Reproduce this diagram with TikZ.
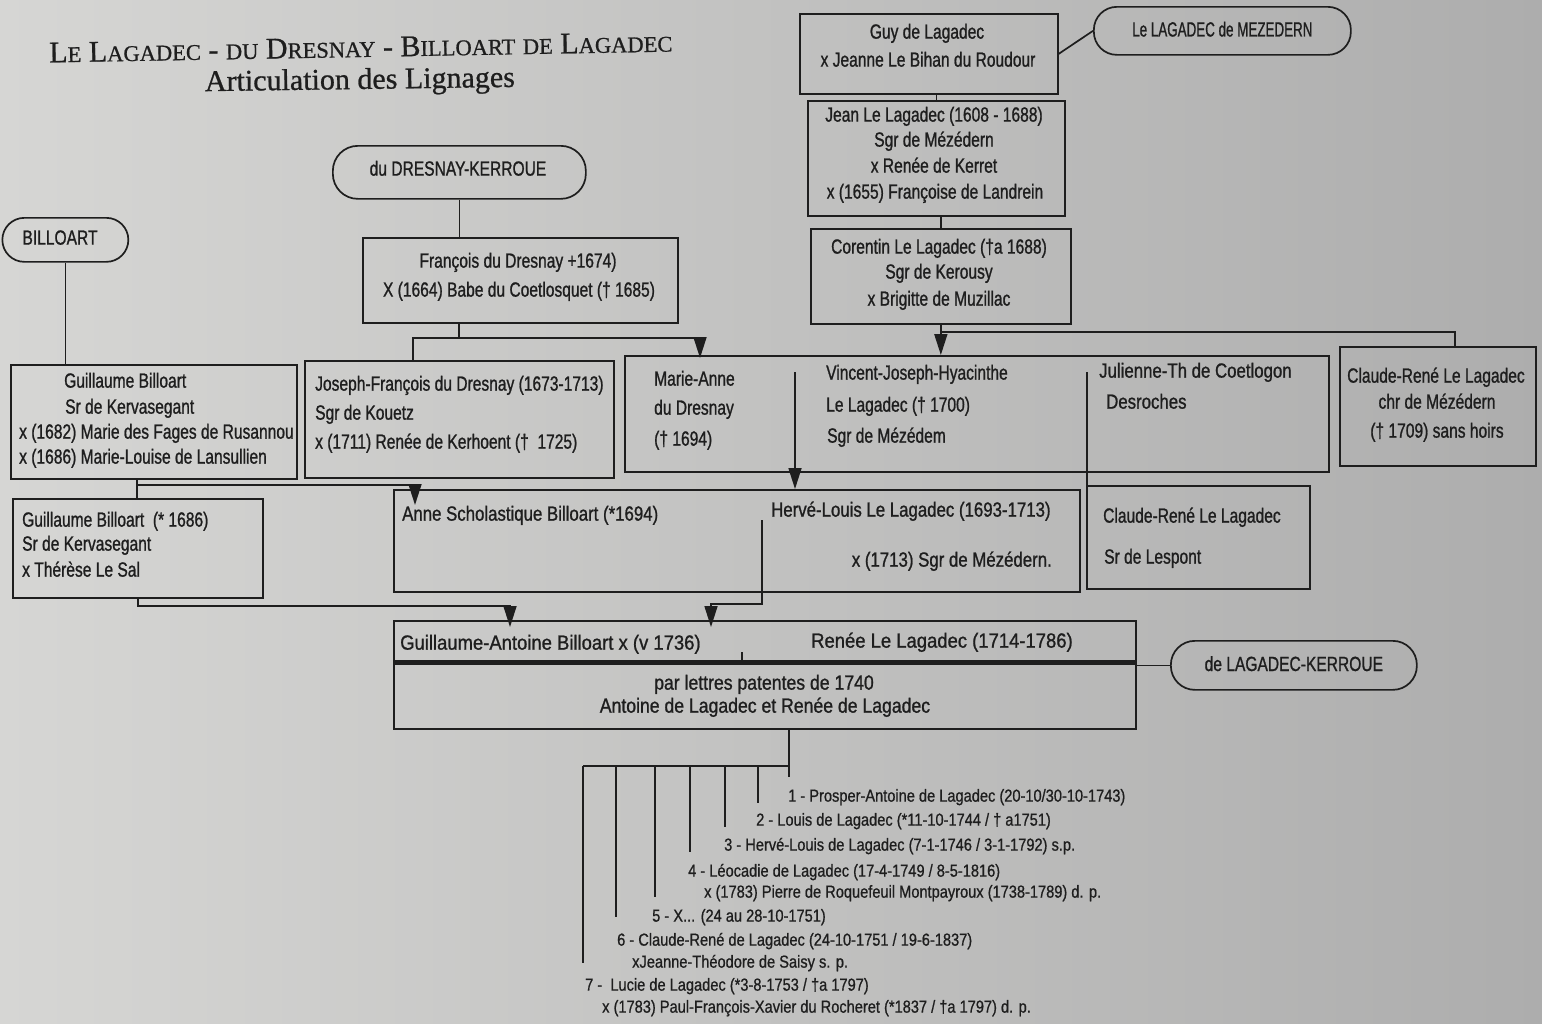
\documentclass[tikz,border=0pt]{standalone}
\usepackage{fontspec}
\usepackage{graphicx}
\setmainfont{Liberation Sans}[FakeStretch=0.76, FakeBold=1.0]
\newfontfamily\fwa{Liberation Sans}[FakeStretch=0.82, FakeBold=1.0]
\newfontfamily\fwb{Liberation Sans}[FakeStretch=0.9, FakeBold=1.0]
\newfontfamily\fwc{Liberation Sans}[FakeStretch=0.86, FakeBold=1.0]
\newfontfamily\listf{Liberation Sans}[FakeStretch=0.84, FakeBold=0.8]
\newfontfamily\titlef{Liberation Serif}[FakeBold=0.8]
\usetikzlibrary{arrows.meta}
\definecolor{ink}{HTML}{1E1E1E}
\definecolor{bgL}{HTML}{D6D6D4}
\definecolor{bgR}{HTML}{ADADAD}
\newcommand\tsc[1]{{\fontsize{22.5}{26}\selectfont #1}}
\begin{document}
\begin{tikzpicture}[x=1pt,y=-1pt,
  every node/.style={text=ink, font=\fontsize{20.5}{23}\selectfont},
  box/.style={draw=ink, line width=1.7pt, inner sep=0pt, anchor=north west},
  lt/.style={inner sep=0pt, anchor=mid west, yshift=-3pt},
  ct/.style={inner sep=0pt, anchor=mid, yshift=-3pt},
  rt/.style={inner sep=0pt, anchor=mid east, yshift=-3pt},
  li/.style={inner sep=0pt, anchor=mid west, yshift=-3pt, font=\listf\fontsize{17.4}{19}\selectfont},
  con/.style={draw=ink, line width=1.7pt},
  arr/.style={con, -{Triangle[width=13pt,length=21pt]}},
]
\useasboundingbox (0,0) rectangle (1542,1023);
\shade[left color=bgL, right color=bgR] (0,0) rectangle (1542,1023);

% ---- title ----
\node[inner sep=0pt, anchor=base, rotate=1, font=\titlef\fontsize{30}{34}\selectfont] (title1) at (361,57)
  {L\tsc{E} L\tsc{AGADEC} - \tsc{DU} D\tsc{RESNAY} - B\tsc{ILLOART} \tsc{DE} L\tsc{AGADEC}};
\node[inner sep=0pt, anchor=base, rotate=0.8, font=\titlef\fontsize{30}{34}\selectfont] (title2) at (360,89)
  {Articulation des Lignages};

% ---- boxes ----
\node[box, minimum width=258pt, minimum height=80pt] (guy) at (799,13) {};
\node[box, rounded corners=23pt, minimum width=257pt, minimum height=48pt] (mez) at (1093,6) {};
\node[box, minimum width=257pt, minimum height=115pt] (jean) at (807,100) {};
\node[box, minimum width=260pt, minimum height=95pt] (cor) at (810,228) {};
\node[box, rounded corners=25pt, minimum width=253pt, minimum height=53pt] (dk) at (332,145) {};
\node[box, minimum width=315pt, minimum height=85pt] (fran) at (362,237) {};
\node[box, rounded corners=22pt, minimum width=126pt, minimum height=44pt] (bil) at (1.5,217) {};
\node[box, minimum width=286pt, minimum height=114pt] (gb) at (10,364) {};
\node[box, minimum width=309pt, minimum height=117pt] (jf) at (304,360) {};
\node[box, minimum width=704pt, minimum height=116pt] (mv) at (624,355) {};
\node[box, minimum width=196pt, minimum height=119pt] (crc) at (1339,346) {};
\node[box, minimum width=250pt, minimum height=99pt] (gb2) at (12,498) {};
\node[box, minimum width=686pt, minimum height=102pt] (ah) at (393,489) {};
\node[box, minimum width=223pt, minimum height=103pt] (crl) at (1086,485) {};
\node[box, minimum width=742pt, minimum height=108pt] (ga) at (393,620) {};
\node[box, rounded corners=24pt, minimum width=246pt, minimum height=49pt] (lk) at (1170,640) {};

% ---- texts ----
\node[ct] (g1) at (927,33) {Guy de Lagadec};
\node[ct] (g2) at (928,61) {x Jeanne Le Bihan du Roudour};
\node[ct] (mzt) at (mez.center) {\scalebox{0.86}[1]{Le LAGADEC de MEZEDERN}};

\node[ct] (j1) at (934,116) {Jean Le Lagadec (1608 - 1688)};
\node[ct] (j2) at (934,141) {Sgr de Mézédern};
\node[ct] (j3) at (934,167) {x Renée de Kerret};
\node[ct] (j4) at (935,193) {x (1655) Françoise de Landrein};

\node[ct] (c1t) at (939,248) {Corentin Le Lagadec (†a 1688)};
\node[ct] (c2t) at (939,273) {Sgr de Kerousy};
\node[ct] (c3t) at (939,300) {x Brigitte de Muzillac};

\node[ct] (dkt) at (458,170) {du DRESNAY-KERROUE};
\node[ct] (f1) at (518,262) {François du Dresnay +1674)};
\node[ct] (f2) at (519,291) {X (1664) Babe du Coetlosquet († 1685)};

\node[ct] (bilt) at (60,239) {BILLOART};
\node[lt] (b1) at (64,382) {Guillaume Billoart};
\node[lt] (b2) at (65,408) {Sr de Kervasegant};
\node[lt] (b3) at (19,433) {x (1682) Marie des Fages de Rusannou};
\node[lt] (b4) at (19,458) {x (1686) Marie-Louise de Lansullien};

\node[lt] (jf1) at (315,385) {Joseph-François du Dresnay (1673-1713)};
\node[lt] (jf2) at (315,414) {Sgr de Kouetz};
\node[lt] (jf3) at (315,443) {x (1711) Renée de Kerhoent (†\ \ 1725)};

\node[lt] (ma1) at (654,380) {Marie-Anne};
\node[lt] (ma2) at (654,409) {du Dresnay};
\node[lt] (ma3) at (654,440) {(† 1694)};

\node[lt] (v1) at (826,374) {Vincent-Joseph-Hyacinthe};
\node[lt] (v2) at (826,406) {Le Lagadec († 1700)};
\node[lt] (v3) at (827,437) {Sgr de Mézédem};

\node[lt, font=\fwa\fontsize{20.5}{23}\selectfont] (ju1) at (1099,372) {Julienne-Th de Coetlogon};
\node[lt, font=\fwa\fontsize{20.5}{23}\selectfont] (ju2) at (1106,403) {Desroches};

\node[ct] (cr1) at (1436,377) {Claude-René Le Lagadec};
\node[ct] (cr2) at (1437,403) {chr de Mézédern};
\node[ct] (cr3) at (1437,432) {(† 1709) sans hoirs};

\node[lt] (gg1) at (22,521) {Guillaume Billoart\ \ (* 1686)};
\node[lt] (gg2) at (22,545) {Sr de Kervasegant};
\node[lt] (gg3) at (22,571) {x Thérèse Le Sal};

\node[lt, font=\fwa\fontsize{20.5}{23}\selectfont] (an1) at (402,515) {Anne Scholastique Billoart (*1694)};
\node[lt, font=\fwa\fontsize{20.5}{23}\selectfont] (hv1) at (771,511) {Hervé-Louis Le Lagadec (1693-1713)};
\node[rt, font=\fwa\fontsize{20.5}{23}\selectfont] (hv2) at (1052,561) {x (1713) Sgr de Mézédern.};

\node[lt] (cl1) at (1103,517) {Claude-René Le Lagadec};
\node[lt] (cl2) at (1104,558) {Sr de Lespont};

\node[lt, font=\fwb\fontsize{20.5}{23}\selectfont] (ga1) at (400,644) {Guillaume-Antoine Billoart x (v 1736)};
\node[lt, font=\fwb\fontsize{20.5}{23}\selectfont] (ga2) at (811,642) {Renée Le Lagadec (1714-1786)};
\node[ct, font=\fwc\fontsize{20.5}{23}\selectfont] (ga3) at (764,684) {par lettres patentes de 1740};
\node[ct, font=\fwc\fontsize{20.5}{23}\selectfont] (ga4) at (765,707) {Antoine de Lagadec et Renée de Lagadec};

\node[ct] (lkt) at (lk.center) {de LAGADEC-KERROUE};

\node[li] (l1) at (788,796) {1 - Prosper-Antoine de Lagadec (20-10/30-10-1743)};
\node[li] (l2) at (756,820) {2 - Louis de Lagadec (*11-10-1744 / † a1751)};
\node[li] (l3) at (724,845) {3 - Hervé-Louis de Lagadec (7-1-1746 / 3-1-1792) s.p.};
\node[li] (l4) at (688,871) {4 - Léocadie de Lagadec (17-4-1749 / 8-5-1816)};
\node[li] (l4b) at (704,892) {x (1783) Pierre de Roquefeuil Montpayroux (1738-1789) d. p.};
\node[li] (l5) at (652,916) {5 - X... (24 au 28-10-1751)};
\node[li] (l6) at (617,940) {6 - Claude-René de Lagadec (24-10-1751 / 19-6-1837)};
\node[li] (l6b) at (632,962) {xJeanne-Théodore de Saisy s. p.};
\node[li] (l7) at (585,985) {7 -\ \ Lucie de Lagadec (*3-8-1753 / †a 1797)};
\node[li] (l7b) at (602,1007) {x (1783) Paul-François-Xavier du Rocheret (*1837 / †a 1797) d. p.};

% ---- connectors ----
\draw[con] (guy.east) -- (mez.west);
\draw[con] (jean.north) -- (jean.north |- guy.south);
\draw[con] (cor.north) -- (cor.north |- jean.south);
\draw[arr] (cor.south) -- (cor.south |- mv.north);
\coordinate (cj) at (940,332);
\coordinate (cr) at (1455,332);
\draw[con] (cj) -- (cr) -- (cr |- crc.north);

\draw[con] (dk.south) -- (dk.south |- fran.north);
\coordinate (fm) at (459,338);
\coordinate (fL) at (413,338);
\coordinate (fR) at (700,338);
\coordinate (mvA) at (700,358);
\draw[con] (fm |- fran.south) -- (fm);
\draw[con] (fL |- jf.north) -- (fL) -- (fR);
\draw[arr] (fR) -- (mvA);

\coordinate (va) at (795,372);
\draw[arr] (va) -- (va |- ah.north);
\coordinate (jd) at (1087,372);
\draw[con] (jd) -- (jd |- crl.north);

\draw[con] (bil.south) -- (bil.south |- gb.north);
\coordinate (gm) at (137,485);
\coordinate (gA) at (415,485);
\coordinate (ahA) at (415,505);
\draw[con] (gm |- gb.south) -- (gm |- gb2.north);
\draw[arr] (gm) -- (gA) -- (ahA);

\coordinate (g2m) at (138,606);
\coordinate (g2A) at (510,606);
\coordinate (gaA) at (510,627);
\draw[arr] (g2m |- gb2.south) -- (g2m) -- (g2A) -- (gaA);

\coordinate (hv) at (762,520);
\coordinate (hvB) at (762,604);
\coordinate (hvA) at (711,604);
\coordinate (gaB) at (711,627);
\draw[arr] (hv) -- (hvB) -- (hvA) -- (gaB);

\coordinate (thL) at (393,662);
\coordinate (thR) at (1135,662);
\draw[draw=ink, line width=5pt] (thL) -- (thR);
\coordinate (tk) at (742,652);
\draw[con] (tk) -- (tk |- thL);
\draw[con] (lk.west) -- (lk.west -| ga.east);

\coordinate (tb) at (789,777);
\coordinate (tl) at (583,766);
\coordinate (tr) at (789,766);
\draw[con] (ga.south -| tb) -- (tb);
\draw[con] (tl) -- (tr);
\coordinate (k1) at (758,803);
\coordinate (k2) at (725,827);
\coordinate (k3) at (690,852);
\coordinate (k4) at (655,897);
\coordinate (k5) at (616,917);
\coordinate (k6) at (583,963);
\foreach \k in {k1,k2,k3,k4,k5,k6} {\draw[con] (\k |- tl) -- (\k);}
\end{tikzpicture}
\end{document}
